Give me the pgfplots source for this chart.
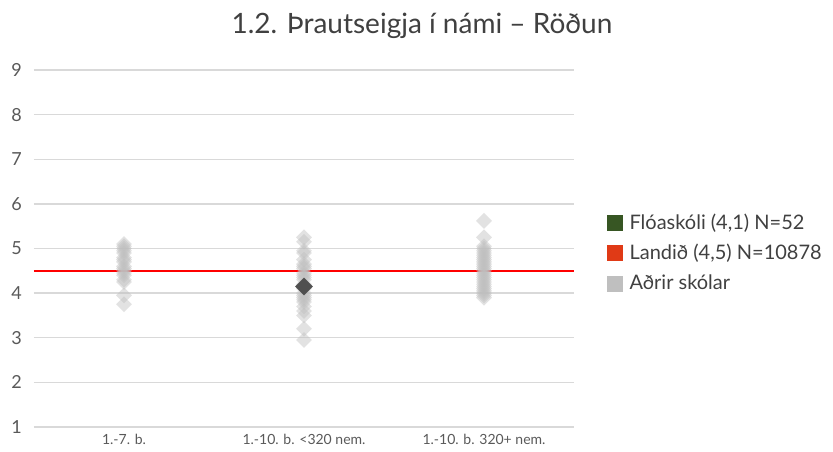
\documentclass[border=0pt]{standalone}
\usepackage{pgfplots}
\pgfplotsset{compat=1.18}
\usepackage{pgfplotstable}
\usepackage{fontspec}
\setmainfont{Lato}
\definecolor{gridgray}{HTML}{D9D9D9}
\definecolor{ticktext}{HTML}{595959}
\definecolor{titletext}{HTML}{404040}
\definecolor{otherg}{HTML}{BFBFBF}
\definecolor{darkpt}{HTML}{505050}
\definecolor{floa}{HTML}{375623}
\definecolor{landid}{HTML}{E03A16}

\pgfplotstableread{
x y
1 5.10
1 5.05
1 5.00
1 4.95
1 4.90
1 4.80
1 4.75
1 4.70
1 4.60
1 4.55
1 4.50
1 4.45
1 4.40
1 4.30
1 4.25
1 3.95
1 3.75
}\colA
\pgfplotstableread{
x y
2 5.25
2 5.15
2 4.95
2 4.90
2 4.75
2 4.65
2 4.60
2 4.55
2 4.45
2 4.40
2 4.35
2 4.30
2 4.20
2 4.10
2 4.00
2 3.95
2 3.90
2 3.85
2 3.80
2 3.70
2 3.60
2 3.50
2 3.20
2 2.95
}\colB
\pgfplotstableread{
x y
3 5.62
3 5.25
3 5.05
3 5.00
3 4.95
3 4.90
3 4.85
3 4.80
3 4.75
3 4.70
3 4.65
3 4.60
3 4.55
3 4.50
3 4.45
3 4.40
3 4.35
3 4.30
3 4.25
3 4.20
3 4.15
3 4.10
3 4.05
3 4.00
3 3.95
3 3.90
}\colC

\begin{document}
\begin{tikzpicture}
\path[use as bounding box] (-34pt,-24pt) rectangle (799pt,427pt);
\begin{axis}[
  scale only axis,
  width=540pt, height=357pt,
  xmin=0.5, xmax=3.5,
  ymin=1, ymax=9,
  xtick={1,2,3},
  xticklabels={1.-7. b., 1.-10. b. <320 nem., 1.-10. b. 320+ nem.},
  ytick={1,2,3,4,5,6,7,8,9},
  ymajorgrids,
  grid style={gridgray, line width=1.3pt},
  axis line style={draw=none},
  major tick length=0pt,
  clip=false,
  /pgf/number format/assume math mode=true,
  xticklabel style={font=\fontsize{14}{16}\selectfont, text=ticktext, inner sep=0pt, yshift=-7pt, anchor=north},
  yticklabel style={font=\fontsize{18}{20}\selectfont, text=ticktext, inner sep=0pt, xshift=-12pt, anchor=east},
  legend style={at={(1.061,0.483)}, anchor=west, draw=none, fill=none,
    font=\fontsize{20}{22}\selectfont, text=titletext,
    row sep=12pt, inner sep=0pt,
    nodes={inner sep=0pt, anchor=base west, text height=14pt, text depth=4pt}},
  legend cell align=left,
]
\addplot[red, line width=2pt, forget plot] coordinates {(0.5,4.5) (3.5,4.5)};
\addplot[only marks, mark=square*, mark size=5.6pt, mark options={rotate=45, fill=otherg, draw opacity=0, fill opacity=0.45}, forget plot] table {\colA};
\addplot[only marks, mark=square*, mark size=5.6pt, mark options={rotate=45, fill=otherg, draw opacity=0, fill opacity=0.45}, forget plot] table {\colB};
\addplot[only marks, mark=square*, mark size=5.6pt, mark options={rotate=45, fill=otherg, draw opacity=0, fill opacity=0.45}, forget plot] table {\colC};
\addplot[only marks, mark=square*, mark size=6.3pt, mark options={rotate=45, fill=darkpt, draw opacity=0}, forget plot] coordinates {(2,4.15)};
\addlegendimage{area legend, legend image code/.code={\fill[floa] (0pt,-1pt) rectangle (15pt,14pt);}}
\addlegendentry{\hspace{7pt}Flóaskóli (4,1) N=52}
\addlegendimage{area legend, legend image code/.code={\fill[landid] (0pt,-1pt) rectangle (15pt,14pt);}}
\addlegendentry{\hspace{7pt}Landið (4,5) N=10878}
\addlegendimage{area legend, legend image code/.code={\fill[otherg] (0pt,-1pt) rectangle (15pt,14pt);}}
\addlegendentry{\hspace{7pt}Aðrir skólar}
\end{axis}
\node[font=\fontsize{28}{32}\selectfont, text=titletext, anchor=base] at (388pt,394pt) {1.2. Þrautseigja í námi – Röðun};
\end{tikzpicture}
\end{document}
